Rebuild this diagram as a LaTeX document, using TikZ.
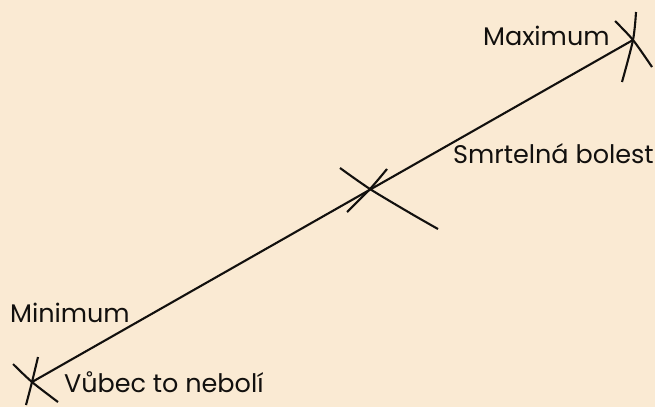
\documentclass[tikz,border=0pt]{standalone}
\usepackage{fontspec}
\setmainfont{Poppins}
\usetikzlibrary{positioning}
\definecolor{paper}{RGB}{250,234,211}
\definecolor{ink}{RGB}{18,16,14}
\tikzset{every picture/.style={
    every path/.style={line width=2.1pt, ink},
}}
\tikzset{lbl/.style = {anchor=base west, inner sep=0, text=ink, font=\fontsize{25.5}{25.5}\selectfont}}

\begin{document}
\begin{tikzpicture}[x=1pt, y=-1pt]
    \fill[paper] (0,0) rectangle (655,407);
    \useasboundingbox (0,0) rectangle (655,407);

    \coordinate (lo) at (32,382);
    \coordinate (mid) at (370,189);
    \coordinate (hi) at (633,40);
    \draw (lo) -- (hi);

    % crossing marks
    \draw plot [smooth] coordinates {(38,357) (32,382) (26,405)};
    \draw plot [smooth] coordinates {(13,364) (32,382) (58,402)};
    \draw plot [smooth] coordinates {(340,168) (370,189) (410,213) (438,229)};
    \draw plot [smooth] coordinates {(387,169) (370,189) (347,212)};
    \draw plot [smooth] coordinates {(636,12) (633,40) (622,82)};
    \draw plot [smooth] coordinates {(615,21) (633,40) (652,67)};

    \node[lbl] (max) at (482,45) {Maximum};
    \node[lbl] (smrt) at (452,163) {Smrtelná bolest};
    \node[lbl] (min) at (9,322) {Minimum};
    \node[lbl] (vubec) at (63,392) {Vůbec to nebolí};
  \end{tikzpicture}
\end{document}
